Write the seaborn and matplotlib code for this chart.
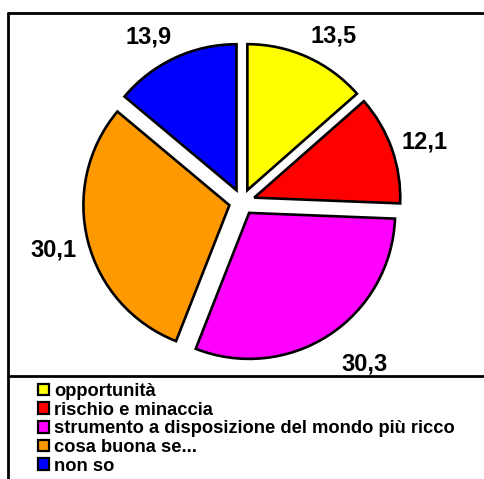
import numpy as np
import matplotlib
matplotlib.use("Agg")
import matplotlib.pyplot as plt
from matplotlib.patches import Patch
from matplotlib.lines import Line2D
import seaborn as sns

categories = ["opportunità", "rischio e minaccia",
              "strumento a disposizione del mondo più ricco",
              "cosa buona se...", "non so"]
values = [13.5, 12.1, 30.3, 30.1, 13.9]
value_labels = ["13,5", "12,1", "30,3", "30,1", "13,9"]
colors = ["#FFFF00", "#FF0000", "#FF00FF", "#FF9900", "#0000FF"]

sns.set_theme(style="white")
plt.rcParams['font.family'] = ['Liberation Sans', 'DejaVu Sans']
plt.rcParams['text.color'] = 'black'

W, H = 484, 479
fig = plt.figure(figsize=(W / 100, H / 100), dpi=100)
fig.patch.set_facecolor("white")

R_px = 146.0
cx, cy = 242.0, 202.0
ax = fig.add_axes([0, 0, 1, 1])
wedges, _ = ax.pie(values, colors=colors, startangle=90, counterclock=False,
                   explode=[0.089] * len(values),
                   wedgeprops=dict(edgecolor="black", linewidth=1.9))
ax.set_xlim(-cx / R_px, (W - cx) / R_px)
ax.set_ylim(-(H - cy) / R_px, cy / R_px)
ax.set_aspect('auto')
ax.axis('off')

fig.canvas.draw()
renderer = fig.canvas.get_renderer()
fs = 17.0
cap = 0.72 * fs * 100 / 72 / R_px  # digit height in data units
for w, lab in zip(wedges, value_labels):
    ang = np.deg2rad((w.theta1 + w.theta2) / 2)
    s, c = np.sin(ang), np.cos(ang)
    gap_px = 7 + 10 * abs(s) + (8 * abs(s) if s < 0 else 0)
    d = w.r + gap_px / R_px
    x0, y0 = w.center
    px, py = x0 + d * c, y0 + d * s
    t = ax.text(px, py, lab, ha="center", va="baseline", fontsize=fs,
                fontweight="bold", color="black")
    tw = t.get_window_extent(renderer).width / R_px
    ink_cx = px + tw / 2 * np.clip(2 * c, -1, 1)
    ink_cy = py + cap / 2 * np.clip(2 * s, -1, 1)
    t.set_position((ink_cx, ink_cy - cap / 2))

lw = 2.0
fig.add_artist(Line2D([8 / W, 8 / W], [1 - 13 / H, 0], transform=fig.transFigure,
                      color="black", linewidth=lw))
fig.add_artist(Line2D([8 / W, 1], [1 - 13 / H, 1 - 13 / H], transform=fig.transFigure,
                      color="black", linewidth=lw))
fig.add_artist(Line2D([8 / W, 1], [1 - 376 / H, 1 - 376 / H], transform=fig.transFigure,
                      color="black", linewidth=lw))

handles = [Patch(facecolor=c, edgecolor="black", linewidth=1.6) for c in colors]
leg = fig.legend(handles, categories, loc="upper left",
                 bbox_to_anchor=(37 / W, 1 - 382 / H), frameon=False,
                 prop=dict(size=13.2, weight="bold"),
                 handlelength=0.6, handleheight=0.6, handletextpad=0.3,
                 labelspacing=0.09, borderpad=0.05, borderaxespad=0)
for txt in leg.get_texts():
    txt.set_color("black")

fig.savefig("out.png", dpi=100, facecolor="white")
